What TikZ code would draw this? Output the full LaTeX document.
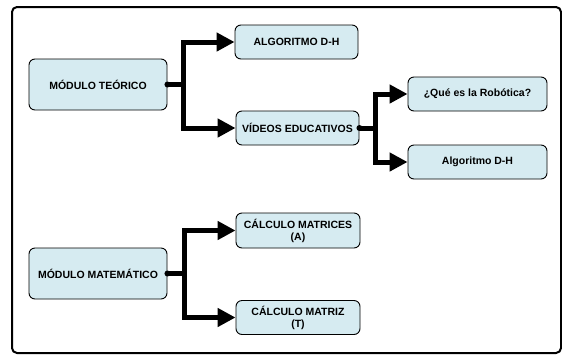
\documentclass[tikz,border=0pt]{standalone}
\usepackage{fontspec}
\setmainfont{Liberation Sans}
\usetikzlibrary{arrows.meta}
\definecolor{cajaazul}{RGB}{214,235,241}

\begin{document}
\begin{tikzpicture}[line cap=round,line join=round,x=1pt,y=-1pt,
	caja/.style={draw=black,line width=0.9pt,fill=cajaazul,rounded corners=6pt,
		inner sep=0pt,align=center,font=\fontsize{10.5}{12}\selectfont\bfseries},
	flecha/.style={line width=5pt,line cap=butt,line join=miter,
		-{Triangle[length=18pt,width=18pt]}}]
	\useasboundingbox (0,0) rectangle (562,354);
	%marco
	\draw[line width=2pt,rounded corners=5pt] (12,7) rectangle (561,353);
	%Modulo teorico
	\node[caja,minimum width=138pt,minimum height=51pt] (teo) at (98,84.5) {MÓDULO TEÓRICO};
	\node[caja,minimum width=123pt,minimum height=34pt] (alg) at (296.5,42) {ALGORITMO D-H};
	\node[caja,minimum width=123pt,minimum height=34pt] (vid) at (297.5,128) {VÍDEOS EDUCATIVOS};
	%Videos
	\node[caja,minimum width=139pt,minimum height=34pt] (rob) at (477.5,94) {¿Qué es la Robótica?};
	\node[caja,minimum width=139pt,minimum height=34pt] (algdh) at (477.5,162) {Algoritmo D-H};
	%Modulo matematico
	\node[caja,minimum width=138pt,minimum height=51pt] (mat) at (98,273.5) {MÓDULO MATEMÁTICO};
	\node[caja,minimum width=124pt,minimum height=35pt] (cma) at (298,230.5) {CÁLCULO MATRICES\\(A)};
	\node[caja,minimum width=124pt,minimum height=34pt] (cmt) at (298,317.5) {CÁLCULO MATRIZ\\(T)};
	%flechas
	\draw[flecha] (teo.east) -- ++(16.5,0) |- (alg);
	\draw[flecha] (teo.east) -- ++(16.5,0) |- (vid);
	\draw[flecha] (vid.east) -- ++(16.5,0) |- (rob);
	\draw[flecha] (vid.east) -- ++(16.5,0) |- (algdh);
	\draw[flecha] (mat.east) -- ++(17,0) |- (cma);
	\draw[flecha] (mat.east) -- ++(17,0) |- (cmt);
	%puntos
	\fill (teo.east) circle (3pt);
	\fill (vid.east) circle (3pt);
	\fill (mat.east) circle (3pt);
\end{tikzpicture}
\end{document}
